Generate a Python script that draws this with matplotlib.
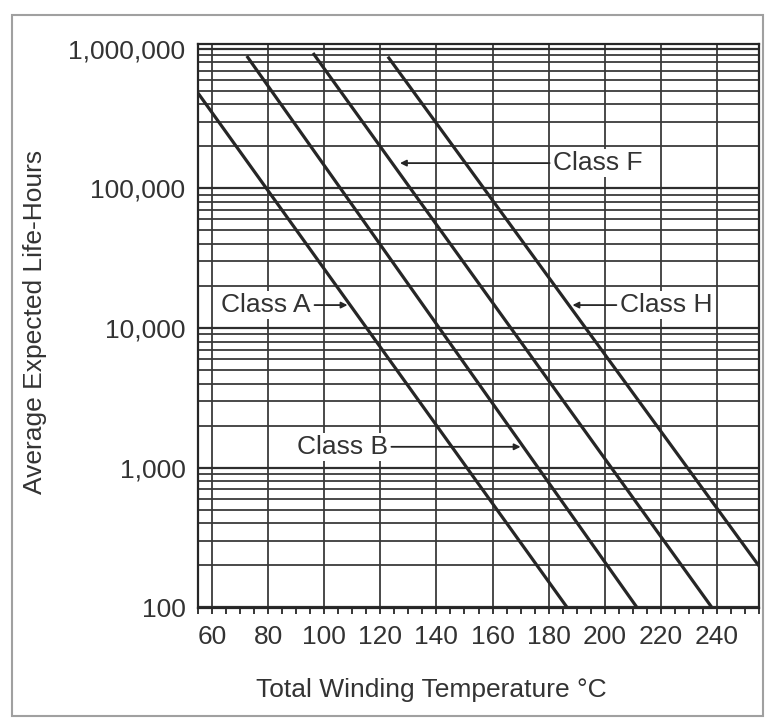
import matplotlib
matplotlib.use("Agg")
import matplotlib.pyplot as plt
from matplotlib.ticker import FixedLocator, LogLocator, NullFormatter, MultipleLocator
from matplotlib.patches import Rectangle

plt.rcParams['font.family'] = ['Liberation Sans', 'DejaVu Sans']

# ---- data ----
classes = ["Class A", "Class B", "Class F", "Class H"]
temps_A = [55.0, 186.5]
life_A = [483000, 100]
temps_B = [72.4, 211.4]
life_B = [890000, 100]
temps_F = [96.0, 238.1]
life_F = [935000, 100]
temps_H = [122.7, 255.0]
life_H = [880000, 197]

x_ticks = [60, 80, 100, 120, 140, 160, 180, 200, 220, 240]
y_ticks = [100, 1000, 10000, 100000, 1000000]
y_tick_labels = ["100", "1,000", "10,000", "100,000", "1,000,000"]

# label positions (text anchor temp, tip temp, life-hours level)
label_text_T = [95.3, 122.7, 181.6, 205.4]
label_tip_T = [108.3, 170.0, 127.0, 188.5]
label_L = [14600, 1408, 152000, 14600]
label_ha = ["right", "right", "left", "left"]

W, H = 766, 720
fig = plt.figure(figsize=(W / 100, H / 100), dpi=100)
ax = fig.add_axes([198 / W, 1 - 608 / H, (759 - 198) / W, (608 - 44) / H])

ax.set_yscale('log')
ax.set_xlim(55, 255)
ax.set_ylim(98.5, 1.085e6)

ink = '#262626'
ax.plot(temps_A, life_A, color=ink, lw=2.3, zorder=3, solid_capstyle='butt')
ax.plot(temps_B, life_B, color=ink, lw=2.3, zorder=3, solid_capstyle='butt')
ax.plot(temps_F, life_F, color=ink, lw=2.3, zorder=3, solid_capstyle='butt')
ax.plot(temps_H, life_H, color=ink, lw=2.3, zorder=3, solid_capstyle='butt')

# ticks
ax.xaxis.set_major_locator(FixedLocator(x_ticks))
ax.xaxis.set_minor_locator(MultipleLocator(5))
ax.set_xticklabels([str(v) for v in x_ticks])
ax.yaxis.set_major_locator(FixedLocator(y_ticks))
ax.set_yticklabels(y_tick_labels)
ax.yaxis.set_minor_locator(LogLocator(base=10, subs=[2, 3, 4, 5, 6, 7, 8, 9]))
ax.yaxis.set_minor_formatter(NullFormatter())

ax.tick_params(axis='x', which='both', direction='out', length=4.5, width=1.3,
               color=ink, labelsize=19, labelcolor='#333333', pad=8)
ax.tick_params(axis='y', which='both', length=0, labelsize=19,
               labelcolor='#333333', pad=9)

# grid
ax.grid(which='major', axis='x', color='#3a3a3a', lw=1.3, zorder=1)
ax.grid(which='major', axis='y', color='#2e2e2e', lw=1.6, zorder=1)
ax.grid(which='minor', axis='y', color='#3a3a3a', lw=1.3, zorder=1)
ax.set_axisbelow(True)

for s in ax.spines.values():
    s.set_color(ink)
    s.set_linewidth(1.6)

# annotations
for name, tT, pT, L, ha in zip(classes, label_text_T, label_tip_T, label_L, label_ha):
    ax.annotate(name, xy=(pT, L), xytext=(tT, L), ha=ha, va='center',
                fontsize=19, color='#333333', zorder=5,
                bbox=dict(boxstyle='square,pad=0.08', fc='white', ec='none'),
                arrowprops=dict(arrowstyle='-|>', color=ink, lw=1.3,
                                mutation_scale=9, shrinkA=1, shrinkB=0))

# axis titles
fig.text(431.5 / W, 1 - 690 / H, "Total Winding Temperature °C", ha='center',
         va='center', fontsize=19, color='#333333')
fig.text(35 / W, 1 - 322 / H, "Average Expected Life-Hours", ha='center',
         va='center', rotation=90, fontsize=19, color='#333333')

# outer frame
fig.patches.append(Rectangle((12 / W, 1 - 716 / H), (763 - 12) / W, (716 - 15) / H,
                             transform=fig.transFigure, fill=False,
                             edgecolor='#a0a0a0', lw=1.5))

fig.savefig("out.png", dpi=100)
